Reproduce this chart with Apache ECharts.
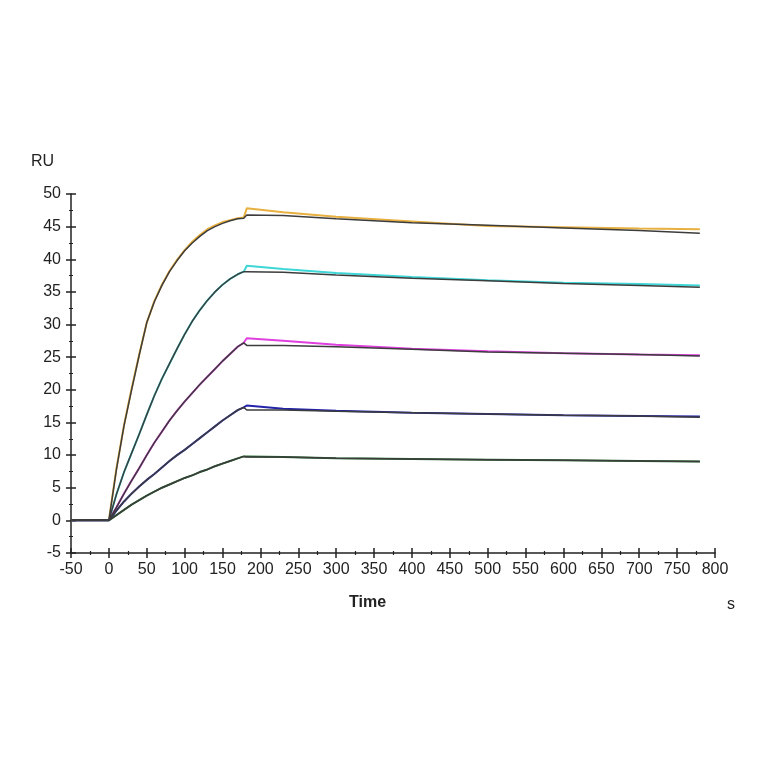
<!DOCTYPE html>
<html>
<head>
<meta charset="utf-8">
<script src="https://cdn.jsdelivr.net/npm/echarts@6/dist/echarts.min.js"></script>
<style>
html,body{margin:0;padding:0;background:#fff;}
#chart{width:764px;height:764px;}
</style>
</head>
<body>
<div id="chart"></div>
<script>
// Time points (s)
const times = [-50, 0, 10, 20, 30, 40, 50, 60, 70, 80, 90, 100, 110, 120, 130, 140, 150, 160, 170, 178, 182, 230, 300, 400, 500, 600, 700, 780];

// Measured response curves (RU)
const dataOrange  = [0, 0, 8.0, 14.6, 20.2, 25.4, 30.3, 33.6, 36.1, 38.2, 39.9, 41.4, 42.7, 43.7, 44.6, 45.2, 45.7, 46.0, 46.3, 46.4, 47.8, 47.2, 46.5, 45.8, 45.1, 44.9, 44.7, 44.6];
const dataCyan    = [0, 0, 4.0, 7.4, 10.3, 13.2, 16.2, 19.1, 21.7, 24.0, 26.3, 28.5, 30.5, 32.2, 33.7, 35.0, 36.1, 37.0, 37.7, 38.1, 39.0, 38.5, 37.9, 37.3, 36.8, 36.4, 36.2, 36.0];
const dataMagenta = [0, 0, 2.0, 4.1, 6.1, 8.0, 10.0, 11.9, 13.6, 15.3, 16.8, 18.2, 19.5, 20.8, 22.0, 23.2, 24.4, 25.5, 26.6, 27.2, 27.9, 27.5, 26.9, 26.3, 25.9, 25.6, 25.4, 25.3];
const dataBlue    = [0, 0, 1.5, 2.9, 4.1, 5.2, 6.2, 7.1, 8.1, 9.1, 10.0, 10.8, 11.7, 12.6, 13.5, 14.4, 15.3, 16.1, 16.9, 17.3, 17.6, 17.1, 16.8, 16.5, 16.3, 16.1, 16.0, 15.9];
const dataGreen   = [0, 0, 0.8, 1.6, 2.4, 3.1, 3.8, 4.4, 5.0, 5.5, 6.0, 6.5, 6.9, 7.4, 7.8, 8.3, 8.7, 9.1, 9.5, 9.8, 9.8, 9.7, 9.5, 9.4, 9.3, 9.2, 9.1, 9.0];

// Fitted curves (RU)
const fitTop     = [0, 0, 7.8, 14.5, 20.0, 25.3, 30.3, 33.5, 36.0, 38.1, 39.8, 41.3, 42.5, 43.5, 44.4, 45.0, 45.5, 45.9, 46.2, 46.3, 46.8, 46.7, 46.2, 45.6, 45.2, 44.8, 44.4, 44.0];
const fitCyan    = [0, 0, 4.0, 7.4, 10.3, 13.2, 16.2, 19.1, 21.7, 24.0, 26.3, 28.5, 30.5, 32.2, 33.7, 35.0, 36.1, 37.0, 37.7, 38.1, 38.1, 38.0, 37.6, 37.1, 36.7, 36.3, 36.0, 35.7];
const fitMagenta = [0, 0, 2.0, 4.1, 6.1, 8.0, 10.0, 11.9, 13.6, 15.3, 16.8, 18.2, 19.5, 20.8, 22.0, 23.2, 24.4, 25.5, 26.6, 27.2, 26.8, 26.8, 26.6, 26.2, 25.8, 25.6, 25.4, 25.2];
const fitBlue    = [0, 0, 1.5, 2.9, 4.1, 5.2, 6.2, 7.1, 8.1, 9.1, 10.0, 10.8, 11.7, 12.6, 13.5, 14.4, 15.3, 16.1, 16.9, 17.3, 16.9, 16.9, 16.7, 16.5, 16.3, 16.1, 16.0, 15.8];
const fitGreen   = [0, 0, 0.8, 1.6, 2.4, 3.1, 3.8, 4.4, 5.0, 5.5, 6.0, 6.5, 6.9, 7.4, 7.8, 8.3, 8.7, 9.1, 9.5, 9.8, 9.7, 9.7, 9.5, 9.4, 9.3, 9.2, 9.1, 9.0];

const xMin = -50, xMax = 800, xStep = 50;
const yMin = -5, yMax = 50, yStep = 5;

const pair = arr => times.map((t, i) => [t, arr[i]]);

const dataSeries = [
  {vals: dataOrange,  color: '#E8B040'},
  {vals: dataCyan,    color: '#3ED6D6'},
  {vals: dataMagenta, color: '#E040E0'},
  {vals: dataBlue,    color: '#2424A8'},
  {vals: dataGreen,   color: '#1E6A2A'}
];
const fitSeries = [fitTop, fitCyan, fitMagenta, fitBlue, fitGreen];

const series = [];
dataSeries.forEach(d => series.push({
  type: 'line', xAxisIndex: 0, yAxisIndex: 0, data: pair(d.vals), showSymbol: false,
  lineStyle: {color: d.color, width: 2}, silent: true, animation: false, z: 2
}));
fitSeries.forEach(f => series.push({
  type: 'line', xAxisIndex: 0, yAxisIndex: 0, data: pair(f), showSymbol: false,
  lineStyle: {color: '#3c3c3c', width: 1.5}, silent: true, animation: false, z: 3
}));

const lab = {fontFamily: 'Liberation Sans, Arial, sans-serif', fontSize: 16, color: '#222'};
const axisCommon = {
  type: 'value', splitLine: {show: false},
  minorTick: {show: true, splitNumber: 2, length: 2, lineStyle: {color: '#222', width: 1.2}}
};

const chart = echarts.init(document.getElementById('chart'));
chart.setOption({
  backgroundColor: '#fff',
  animation: false,
  grid: {left: 71, right: 49, top: 194, bottom: 211, containLabel: false},
  xAxis: [
    Object.assign({}, axisCommon, {
      min: xMin, max: xMax, interval: xStep, position: 'bottom',
      axisLine: {show: true, onZero: false, lineStyle: {color: '#222', width: 1.5}},
      axisTick: {show: true, inside: false, length: 5, lineStyle: {color: '#222', width: 1.5}},
      axisLabel: Object.assign({margin: 9}, lab)
    }),
    Object.assign({}, axisCommon, {
      min: xMin, max: xMax, interval: xStep, position: 'bottom',
      axisLine: {show: false, onZero: false},
      axisTick: {show: true, inside: true, length: 5, lineStyle: {color: '#222', width: 1.5}},
      axisLabel: {show: false}
    })
  ],
  yAxis: [
    Object.assign({}, axisCommon, {
      min: yMin, max: yMax, interval: yStep, position: 'left',
      axisLine: {show: true, onZero: false, lineStyle: {color: '#222', width: 1.5}},
      axisTick: {show: true, inside: false, length: 5, lineStyle: {color: '#222', width: 1.5}},
      axisLabel: Object.assign({margin: 10}, lab)
    }),
    Object.assign({}, axisCommon, {
      min: yMin, max: yMax, interval: yStep, position: 'left',
      axisLine: {show: false, onZero: false},
      axisTick: {show: true, inside: true, length: 5, lineStyle: {color: '#222', width: 1.5}},
      axisLabel: {show: false}
    })
  ],
  graphic: [
    {type: 'text', left: 31, top: 154, style: {text: 'RU', font: '16px "Liberation Sans", Arial, sans-serif', fill: '#222'}},
    {type: 'text', left: 349, top: 595, style: {text: 'Time', font: 'bold 16px "Liberation Sans", Arial, sans-serif', fill: '#222'}},
    {type: 'text', left: 727, top: 597, style: {text: 's', font: '16px "Liberation Sans", Arial, sans-serif', fill: '#222'}}
  ],
  series: series
});
</script>
</body>
</html>
